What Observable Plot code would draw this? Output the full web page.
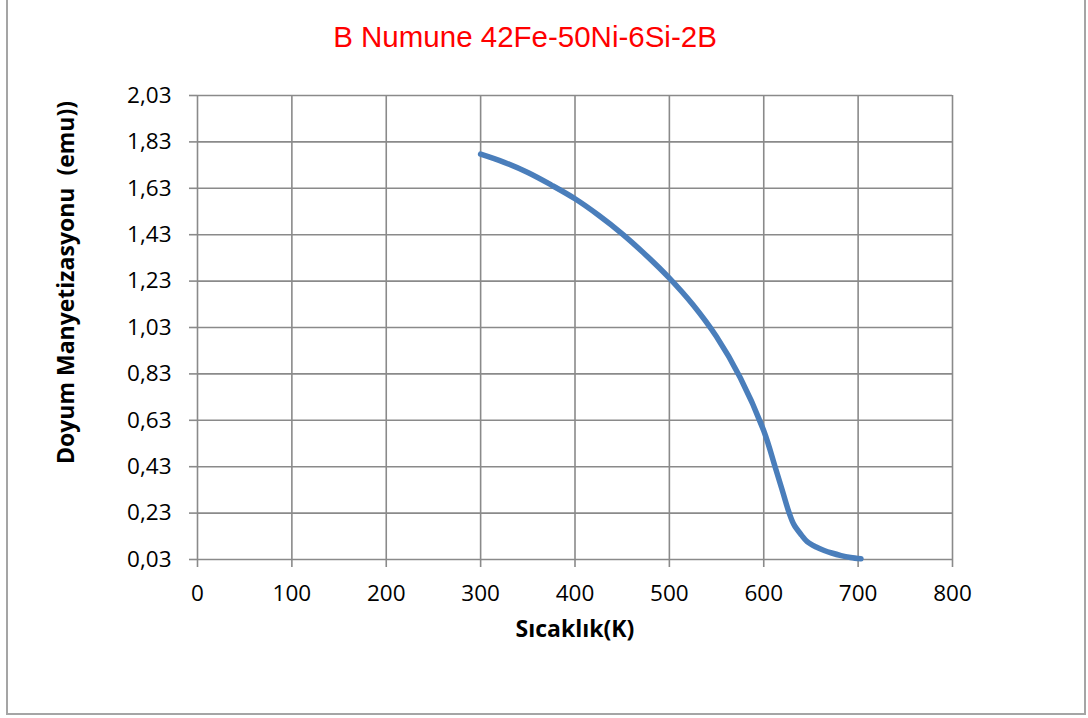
<!DOCTYPE html>
<html>
<head>
<meta charset="utf-8">
<script src="https://cdn.jsdelivr.net/npm/d3@7"></script>
<script src="https://cdn.jsdelivr.net/npm/@observablehq/plot@0.6"></script>
<style>
  html, body { margin: 0; padding: 0; background: #fff; }
  #wrap { position: relative; width: 1088px; height: 718px; overflow: hidden; background: #fff; }
  #border { position: absolute; left: 6px; top: -10px; width: 1080px; height: 725px; box-sizing: border-box; border: 2px solid #a5a5a5; }
  #title { position: absolute; left: 225px; width: 600px; top: 22px; text-align: center;
           font-family: "Liberation Sans", Arial, sans-serif; font-size: 29.5px; line-height: 1; color: #ff0000; white-space: nowrap; }
  #chart { position: absolute; left: 0; top: 0; }
  #chart svg text { white-space: pre; }
</style>
</head>
<body>
<div id="wrap">
  <div id="border"></div>
  <div id="chart"></div>
  <div id="title"></div>
</div>
<script>
// ---- data ----
const titleText = "B Numune 42Fe-50Ni-6Si-2B";
const xLabel = "Sıcaklık(K)";
const yLabel = "Doyum Manyetizasyonu  (emu))";
const xTicks = [0, 100, 200, 300, 400, 500, 600, 700, 800];
const yTicks = [0.03, 0.23, 0.43, 0.63, 0.83, 1.03, 1.23, 1.43, 1.63, 1.83, 2.03];

const temperature = [300, 325, 350, 375, 400, 425, 450, 475, 500, 525, 550, 575, 600, 612, 620, 627, 632, 640, 646, 655, 664, 672, 682, 692, 703];
const magnetization = [1.777, 1.742, 1.698, 1.644, 1.585, 1.514, 1.434, 1.343, 1.243, 1.128, 0.990, 0.815, 0.585, 0.430, 0.323, 0.230, 0.180, 0.135, 0.107, 0.085, 0.069, 0.058, 0.047, 0.039, 0.033];

const data = temperature.map((t, i) => ({T: t, M: magnetization[i]}));
const fmt = d => d.toFixed(2).replace(".", ",");
const gridColor = "#8a8a8a";

document.getElementById("title").textContent = titleText;

const chart = Plot.plot({
  width: 1088,
  height: 718,
  marginLeft: 197,
  marginRight: 136,
  marginTop: 95,
  marginBottom: 159,
  style: { fontFamily: "'Open Sans', sans-serif", fontSize: "22.5px", color: "black", background: "transparent" },
  x: { domain: [0, 800] },
  y: { domain: [0.03, 2.03] },
  marks: [
    Plot.gridX(xTicks, { stroke: gridColor, strokeOpacity: 1, strokeWidth: 1.6 }),
    Plot.gridY(yTicks, { stroke: gridColor, strokeOpacity: 1, strokeWidth: 1.6 }),
    Plot.axisX(xTicks, { tickSize: 8, tickPadding: 18, stroke: gridColor, strokeWidth: 1.6, fill: "black", label: null, fontSize: 22.5 }),
    Plot.axisY(yTicks, { tickSize: 8, tickPadding: 18, stroke: gridColor, strokeWidth: 1.6, fill: "black", label: null, fontSize: 22.5, tickFormat: fmt }),
    Plot.line(data, { x: "T", y: "M", stroke: "#4a7ebb", strokeWidth: 5.5, curve: "catmull-rom", strokeLinecap: "round", strokeLinejoin: "round" }),
    Plot.text([xLabel], { text: d => d, frameAnchor: "bottom", textAnchor: "middle", dy: 77, fontWeight: "bold", fontSize: 23, fill: "black" }),
    Plot.text([yLabel], { text: d => d, frameAnchor: "left", textAnchor: "middle", dx: -131, dy: -45, rotate: -90, fontWeight: "bold", fontSize: 23, fill: "black" })
  ]
});
document.getElementById("chart").appendChild(chart);
</script>
</body>
</html>
